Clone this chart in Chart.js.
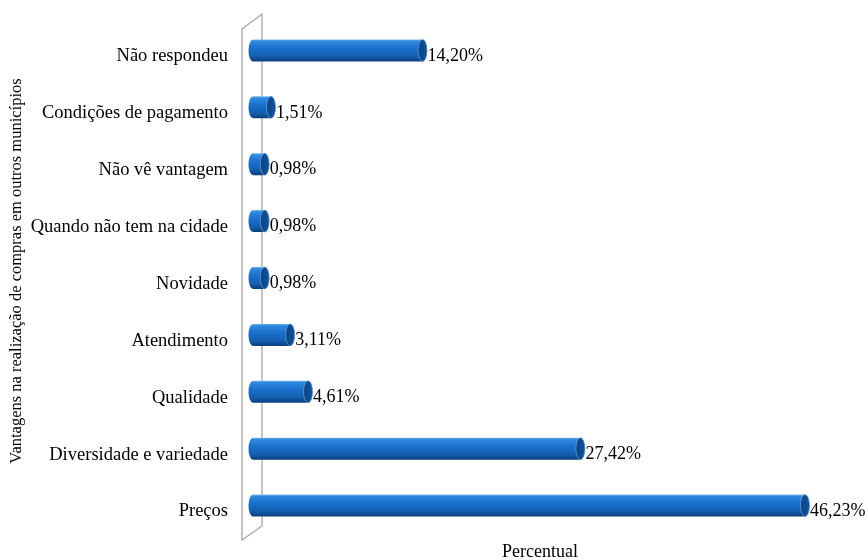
<!DOCTYPE html>
<html>
<head>
<meta charset="utf-8">
<script src="https://cdn.jsdelivr.net/npm/chart.js@4.4.1/dist/chart.umd.min.js"></script>
<style>
  html, body { margin: 0; padding: 0; background: #fff; }
</style>
</head>
<body>
<canvas id="grafico" width="865" height="560"></canvas>
<script>
// Categorias e percentuais (de cima para baixo)
const categorias = [
    'Não respondeu',
    'Condições de pagamento',
    'Não vê vantagem',
    'Quando não tem na cidade',
    'Novidade',
    'Atendimento',
    'Qualidade',
    'Diversidade e variedade',
    'Preços'
];
const percentuais = [14.20, 1.51, 0.98, 0.98, 0.98, 3.11, 4.61, 27.42, 46.23];

const tituloY = 'Vantagens na realização de compras em outros municípios';
const tituloX = 'Percentual';

const fonte = "'Liberation Serif', 'Times New Roman', serif";

// Parede lateral em 3D e títulos dos eixos
const paredePlugin = {
    id: 'parede',
    beforeDatasetsDraw(chart) {
        const { ctx, chartArea } = chart;
        const xf = chartArea.left - 11, xb = chartArea.left + 9;
        const prof = 14;
        ctx.save();
        ctx.strokeStyle = '#a6a6a6';
        ctx.lineWidth = 1.3;
        ctx.beginPath();
        ctx.moveTo(xf, chartArea.top + 1);
        ctx.lineTo(xb, chartArea.top - prof);
        ctx.lineTo(xb, chartArea.bottom - prof);
        ctx.lineTo(xf, chartArea.bottom);
        ctx.closePath();
        ctx.stroke();

        // títulos
        ctx.fillStyle = '#000';
        ctx.textAlign = 'center';
        ctx.textBaseline = 'middle';
        ctx.font = '18px ' + fonte;
        ctx.fillText(tituloX, (xf + chartArea.right - 12) / 2, chartArea.bottom + 12);

        ctx.translate(17, (chartArea.top + chartArea.bottom) / 2 - 13);
        ctx.rotate(-Math.PI / 2);
        ctx.font = '16.5px ' + fonte;
        ctx.fillText(tituloY, 0, 0);
        ctx.restore();
    }
};

// Barras em forma de cilindro, a partir das posições calculadas pelo Chart.js
const cilindroPlugin = {
    id: 'cilindro',
    afterDatasetsDraw(chart) {
        const { ctx } = chart;
        const meta = chart.getDatasetMeta(0);
        ctx.save();
        meta.data.forEach((bar, i) => {
            const p = bar.getProps(['x', 'y', 'base', 'height'], true);
            const yc = p.y - 6;
            const ry = p.height / 2;
            const rx = 4.5;
            const x0 = p.base, x1 = p.x;

            const grad = ctx.createLinearGradient(0, yc - ry, 0, yc + ry);
            grad.addColorStop(0, '#7ab6ec');
            grad.addColorStop(0.08, '#2f8ae0');
            grad.addColorStop(0.4, '#1a70cb');
            grad.addColorStop(0.75, '#145fb0');
            grad.addColorStop(1, '#0a3e7a');

            ctx.beginPath();
            ctx.moveTo(x0, yc - ry);
            ctx.lineTo(x1, yc - ry);
            ctx.ellipse(x1, yc, rx, ry, 0, -Math.PI / 2, Math.PI / 2, false);
            ctx.lineTo(x0, yc + ry);
            ctx.ellipse(x0, yc, rx, ry, 0, Math.PI / 2, Math.PI * 1.5, false);
            ctx.closePath();
            ctx.fillStyle = grad;
            ctx.fill();

            // tampa da ponta
            const gTampa = ctx.createLinearGradient(x1 - rx, 0, x1 + rx, 0);
            gTampa.addColorStop(0, '#0c4587');
            gTampa.addColorStop(1, '#0f5299');
            ctx.beginPath();
            ctx.ellipse(x1, yc, rx, ry, 0, 0, Math.PI * 2);
            ctx.fillStyle = gTampa;
            ctx.fill();
            ctx.strokeStyle = 'rgba(120,170,225,0.8)';
            ctx.lineWidth = 0.8;
            ctx.stroke();

            // rótulo de valor
            ctx.fillStyle = '#000';
            ctx.font = '18px ' + fonte;
            ctx.textAlign = 'left';
            ctx.textBaseline = 'middle';
            const txt = percentuais[i].toFixed(2).replace('.', ',') + '%';
            ctx.fillText(txt, x1 + rx + 0.5, p.y - 0.5);
        });
        ctx.restore();
    }
};

const ctx = document.getElementById('grafico').getContext('2d');
const grafico = new Chart(ctx, {
    type: 'bar',
    data: {
        labels: categorias,
        datasets: [{
            data: percentuais,
            backgroundColor: 'rgba(0,0,0,0)',
            borderWidth: 0,
            barThickness: 22
        }]
    },
    options: {
        indexAxis: 'y',
        responsive: false,
        animation: false,
        layout: { padding: { top: 28, right: 15, left: 0, bottom: 20 } },
        plugins: {
            legend: { display: false },
            tooltip: { enabled: false }
        },
        scales: {
            x: {
                display: false,
                min: 0,
                max: 50
            },
            y: {
                grid: { display: false, drawTicks: false },
                border: { display: false },
                ticks: {
                    color: '#000',
                    padding: 25,
                    font: { family: fonte, size: 18.5 }
                },
                afterFit(scale) {
                    scale.width = 253;
                    scale.paddingTop = 0;
                    scale.paddingBottom = 0;
                }
            }
        }
    },
    plugins: [paredePlugin, cilindroPlugin]
});
</script>
</body>
</html>
